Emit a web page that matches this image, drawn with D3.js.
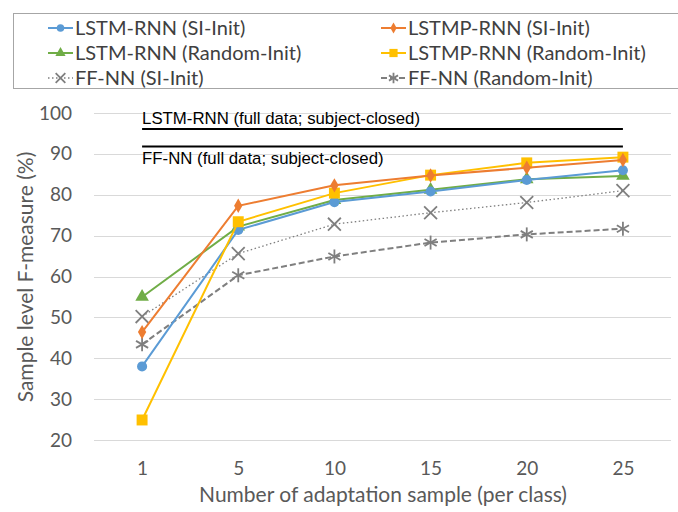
<!DOCTYPE html>
<html>
<head>
<meta charset="utf-8">
<script src="https://cdn.jsdelivr.net/npm/d3@7"></script>
<style>
  body { margin: 0; background: #fff; }
  text { font-family: Lato, "Open Sans", sans-serif; }
</style>
</head>
<body>
<script>
// data
var samples = ['1', '5', '10', '15', '20', '25'];
var yTicks = [20, 30, 40, 50, 60, 70, 80, 90, 100];

var lstmSi = [38.0, 71.4, 78.2, 80.8, 83.6, 86.0];
var lstmpSi = [46.4, 77.3, 82.3, 84.7, 86.6, 88.5];
var lstmRand = [55.0, 72.2, 78.7, 81.2, 83.8, 84.6];
var lstmpRand = [24.9, 73.4, 80.4, 84.8, 87.8, 89.2];
var ffSi = [50.2, 65.6, 72.8, 75.6, 78.1, 81.0];
var ffRand = [43.4, 60.3, 64.9, 68.3, 70.3, 71.7];

var refLabels = ['LSTM-RNN (full data; subject-closed)', 'FF-NN (full data; subject-closed)'];
var refValues = [96.1, 91.8];

var series = [
  { name: 'LSTM-RNN (SI-Init)', values: lstmSi, color: '#5b9bd5', marker: 'circle', dash: null, width: 2 },
  { name: 'LSTMP-RNN (SI-Init)', values: lstmpSi, color: '#ed7d31', marker: 'diamond', dash: null, width: 2 },
  { name: 'LSTM-RNN (Random-Init)', values: lstmRand, color: '#70ad47', marker: 'triangle', dash: null, width: 2 },
  { name: 'LSTMP-RNN (Random-Init)', values: lstmpRand, color: '#ffc000', marker: 'square', dash: null, width: 2 },
  { name: 'FF-NN (SI-Init)', values: ffSi, color: '#7f7f7f', marker: 'x', dash: '1.5,2.5', width: 1.3 },
  { name: 'FF-NN (Random-Init)', values: ffRand, color: '#7f7f7f', marker: 'star', dash: '6,3', width: 2 }
];

var width = 678, height = 512;
var plotLeft = 94, plotRight = 671, plotTop = 113, plotBottom = 440;

var svg = d3.select('body').append('svg')
  .attr('width', width)
  .attr('height', height);

var x = d3.scalePoint().domain(samples).range([plotLeft, plotRight]).padding(0.5);
var y = d3.scaleLinear().domain([20, 100]).range([plotBottom, plotTop]);

// gridlines
svg.append('g')
  .selectAll('line')
  .data(yTicks)
  .enter().append('line')
  .attr('x1', plotLeft).attr('x2', plotRight)
  .attr('y1', function(d) { return Math.round(y(d)) + 0.5; })
  .attr('y2', function(d) { return Math.round(y(d)) + 0.5; })
  .style('stroke', '#d9d9d9')
  .style('stroke-width', 1);

// y tick labels
var yAxis = svg.append('g')
  .attr('transform', 'translate(72,0)')
  .call(d3.axisLeft(y).tickValues(yTicks).tickSize(0).tickPadding(0));
yAxis.select('.domain').remove();
yAxis.selectAll('text')
  .style('font-family', 'Lato, sans-serif')
  .style('font-size', '19px')
  .style('fill', '#595959');

// x tick labels
var xAxis = svg.append('g')
  .attr('transform', 'translate(0,' + (plotBottom + 21) + ')')
  .call(d3.axisBottom(x).tickSize(0).tickPadding(0));
xAxis.select('.domain').remove();
xAxis.selectAll('text')
  .style('font-family', 'Lato, sans-serif')
  .style('font-size', '19px')
  .style('fill', '#595959');

svg.append('text')
  .attr('x', 383)
  .attr('y', 502)
  .attr('text-anchor', 'middle')
  .style('font-size', '21px')
  .style('fill', '#595959')
  .text('Number of adaptation sample (per class)');

svg.append('text')
  .attr('transform', 'translate(33,277) rotate(-90)')
  .attr('text-anchor', 'middle')
  .style('font-size', '21px')
  .style('fill', '#595959')
  .text('Sample level F-measure (%)');

// full-data reference lines
refValues.forEach(function(v, i) {
  svg.append('line')
    .attr('x1', x(samples[0])).attr('x2', x(samples[samples.length - 1]))
    .attr('y1', y(v)).attr('y2', y(v))
    .style('stroke', '#000')
    .style('stroke-width', 2);
  svg.append('text')
    .attr('x', x(samples[0]))
    .attr('y', i === 0 ? y(v) - 5 : y(v) + 17)
    .style('font-family', '"Liberation Sans", Arial, sans-serif')
    .style('font-size', '16.8px')
    .style('fill', '#000')
    .text(refLabels[i]);
});

var symbolFor = function(m) {
  if (m === 'circle') return d3.symbol().type(d3.symbolCircle).size(80);
  if (m === 'diamond') return d3.symbol().type(d3.symbolDiamond).size(60);
  if (m === 'triangle') return d3.symbol().type(d3.symbolTriangle).size(80);
  if (m === 'square') return d3.symbol().type(d3.symbolSquare).size(120);
  if (m === 'x') return d3.symbol().type(d3.symbolTimes).size(110);
  return null;
};

var drawMarker = function(g, s, cx, cy, scale) {
  scale = scale || 1;
  if (s.marker === 'star') {
    var r = 7 * scale;
    [0, 60, 120].forEach(function(a) {
      var rad = a * Math.PI / 180 + Math.PI / 2;
      g.append('line')
        .attr('x1', cx - r * Math.cos(rad)).attr('y1', cy - r * Math.sin(rad))
        .attr('x2', cx + r * Math.cos(rad)).attr('y2', cy + r * Math.sin(rad))
        .style('stroke', s.color).style('stroke-width', 1.8);
    });
    return;
  }
  var p = g.append('path')
    .attr('d', symbolFor(s.marker)())
    .attr('transform', 'translate(' + cx + ',' + cy + ') scale(' + scale + ')');
  if (s.marker === 'x') {
    p.style('fill', 'none').style('stroke', s.color).style('stroke-width', 1.8 / scale);
  } else {
    p.style('fill', s.color);
  }
};

var line = d3.line()
  .x(function(d, i) { return x(samples[i]); })
  .y(function(d) { return y(d); });

var drawOrder = [5, 4, 2, 0, 3, 1];
drawOrder.forEach(function(k) {
  var s = series[k];
  var g = svg.append('g');
  g.append('path')
    .attr('d', line(s.values))
    .style('fill', 'none')
    .style('stroke', s.color)
    .style('stroke-width', s.width)
    .style('stroke-dasharray', s.dash);
  s.values.forEach(function(v, i) {
    drawMarker(g, s, x(samples[i]), y(v));
  });
});

// legend
var legend = svg.append('g');
legend.append('rect')
  .attr('x', 13.5).attr('y', 13.5)
  .attr('width', 700).attr('height', 75)
  .style('fill', '#fff')
  .style('stroke', '#a6a6a6')
  .style('stroke-width', 1);

series.forEach(function(s, i) {
  var col = i % 2, row = Math.floor(i / 2);
  var lx = col === 0 ? 48 : 381;
  var ly = 28 + row * 25;
  var g = legend.append('g');
  g.append('line')
    .attr('x1', lx).attr('x2', lx + 25)
    .attr('y1', ly).attr('y2', ly)
    .style('stroke', s.color)
    .style('stroke-width', s.width)
    .style('stroke-dasharray', s.dash);
  drawMarker(g, s, lx + 12.5, ly, 0.75);
  g.append('text')
    .attr('x', lx + 27)
    .attr('y', ly + 7)
    .style('font-size', '20px')
    .style('fill', '#404040')
    .text(s.name);
});
</script>
</body>
</html>
